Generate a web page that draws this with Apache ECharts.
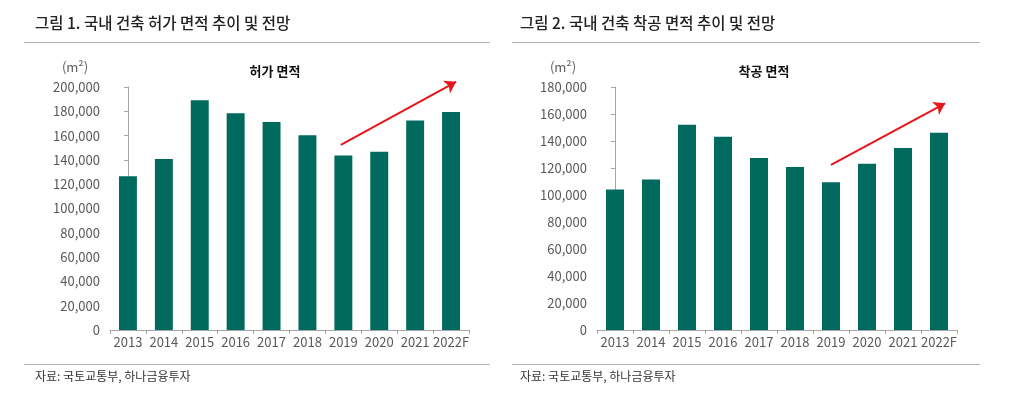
<!DOCTYPE html>
<html><head><meta charset="utf-8">
<script src="https://cdn.jsdelivr.net/npm/echarts@6/dist/echarts.min.js"></script>
<style>html,body{margin:0;padding:0;background:#fff}#c{width:1024px;height:393px}</style>
</head><body><div id="c"></div>
<script>
const categories = ['2013','2014','2015','2016','2017','2018','2019','2020','2021','2022F'];
const permitArea = [126500, 140700, 189000, 178300, 171200, 160200, 143700, 146700, 172500, 179500];
const startArea = [104000, 111500, 152000, 143200, 127400, 120700, 109400, 123200, 134800, 146200];
const permitTicks = [0, 200000, 20000];
const startTicks = [0, 180000, 20000];
const permitArrow = [[5.93, 152300], [9.14, 204300]];
const startArrow = [[6.0, 122300], [9.17, 167900]];
const titles = ['그림 1. 국내 건축 허가 면적 추이 및 전망', '그림 2. 국내 건축 착공 면적 추이 및 전망'];
const subtitles = ['허가 면적', '착공 면적'];
const unitLabel = '(m²)';
const sourceText = '자료: 국토교통부, 하나금융투자';

const FONT = '"Noto Sans CJK KR", "Noto Sans", sans-serif';
const BAR = '#006a5e';
const AX = '#a6a6a6';
const LBL = '#595959';

function xCat(grid) {
  return {
    type: 'category', gridIndex: grid, data: categories,
    axisLine: { lineStyle: { color: AX } },
    axisTick: { show: true, length: 4, lineStyle: { color: AX } },
    axisLabel: { color: LBL, fontSize: 13, fontFamily: FONT, margin: 6, interval: 0 }
  };
}
function xVal(grid) {
  return { type: 'value', gridIndex: grid, min: -0.5, max: 9.5, show: false };
}
function yVal(grid, t) {
  return {
    type: 'value', gridIndex: grid, min: t[0], max: t[1], interval: t[2],
    axisLine: { show: true, lineStyle: { color: AX } },
    axisTick: { show: true, length: 4, lineStyle: { color: AX } },
    splitLine: { show: false },
    axisLabel: { color: LBL, fontSize: 13, fontFamily: FONT, margin: 10,
      formatter: v => v.toLocaleString('en-US') }
  };
}
function arrowSeries(xi, yi, pts) {
  return {
    type: 'lines', coordinateSystem: 'cartesian2d', xAxisIndex: xi, yAxisIndex: yi,
    clip: false, silent: true, z: 10,
    symbol: ['none', 'arrow'], symbolSize: 11,
    lineStyle: { color: '#e8141b', width: 2, opacity: 1, curveness: 0 },
    data: [{ coords: pts }]
  };
}
function txt(left, top, text, style) {
  return { type: 'text', left: left, top: top, style: Object.assign({ text: text, fontFamily: FONT }, style) };
}

const chart = echarts.init(document.getElementById('c'), null, { renderer: 'canvas' });
chart.setOption({
  animation: false,
  grid: [
    { left: 110, right: 555, top: 87, bottom: 63 },
    { left: 597, right: 67, top: 87, bottom: 63 }
  ],
  xAxis: [xCat(0), xCat(1), xVal(0), xVal(1)],
  yAxis: [yVal(0, permitTicks), yVal(1, startTicks)],
  series: [
    { type: 'bar', xAxisIndex: 0, yAxisIndex: 0, data: permitArea, barWidth: '50%', itemStyle: { color: BAR } },
    { type: 'bar', xAxisIndex: 1, yAxisIndex: 1, data: startArea, barWidth: '50%', itemStyle: { color: BAR } },
    arrowSeries(2, 0, permitArrow),
    arrowSeries(3, 1, startArrow)
  ],
  graphic: [
    txt(35, 15, titles[0], { fontSize: 15.5, fontWeight: 500, fill: '#222' }),
    txt(520, 15, titles[1], { fontSize: 15.5, fontWeight: 500, fill: '#222' }),
    { type: 'line', shape: { x1: 24, y1: 42.5, x2: 490, y2: 42.5 }, style: { stroke: '#b3b3b3', lineWidth: 1 } },
    { type: 'line', shape: { x1: 512, y1: 42.5, x2: 980, y2: 42.5 }, style: { stroke: '#b3b3b3', lineWidth: 1 } },
    { type: 'text', x: 275, y: 71, style: { text: subtitles[0], fontFamily: FONT, fontSize: 13, fontWeight: 'bold', fill: '#111', align: 'center', verticalAlign: 'middle' } },
    { type: 'text', x: 764, y: 71, style: { text: subtitles[1], fontFamily: FONT, fontSize: 13, fontWeight: 'bold', fill: '#111', align: 'center', verticalAlign: 'middle' } },
    { type: 'text', x: 75, y: 67, style: { text: unitLabel, fontFamily: FONT, fontSize: 13, fill: LBL, align: 'center', verticalAlign: 'middle' } },
    { type: 'text', x: 563, y: 67, style: { text: unitLabel, fontFamily: FONT, fontSize: 13, fill: LBL, align: 'center', verticalAlign: 'middle' } },
    { type: 'line', shape: { x1: 24, y1: 364.5, x2: 490, y2: 364.5 }, style: { stroke: '#b3b3b3', lineWidth: 1 } },
    { type: 'line', shape: { x1: 512, y1: 364.5, x2: 980, y2: 364.5 }, style: { stroke: '#b3b3b3', lineWidth: 1 } },
    txt(35, 370, sourceText, { fontSize: 12, fill: '#333' }),
    txt(520, 370, sourceText, { fontSize: 12, fill: '#333' })
  ]
});
</script></body></html>
